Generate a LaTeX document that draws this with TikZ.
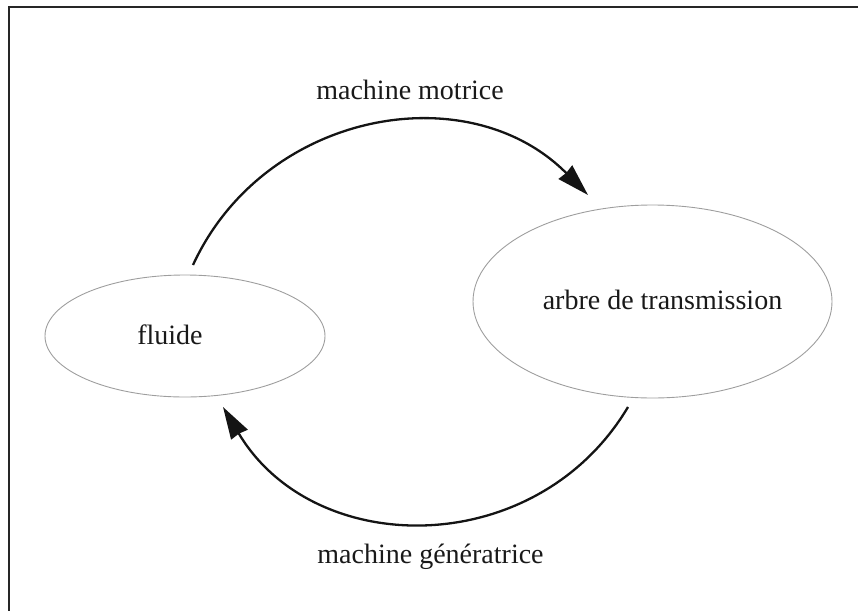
\documentclass[tikz,border=0pt]{standalone}
\usepackage{fontspec}
\setmainfont{Liberation Serif}
\usetikzlibrary{shapes.geometric,arrows.meta,calc}

\tikzset{
  state/.style={ellipse, draw=black!38, line width=0.9pt, inner sep=0pt},
  lbl/.style={anchor=base, inner sep=0pt, text=black!90,
              font=\fontsize{28}{34}\selectfont},
  conn/.style={line width=2.3pt, black!92,
               -{Stealth[length=32pt, width=19pt, inset=1pt]}},
  frame/.style={line width=2.4pt, black!85}
}

\begin{document}
\begin{tikzpicture}[x=1pt, y=-1pt]
  \useasboundingbox (0,0) rectangle (858,610);

  % open frame: top and left edges
  \draw[frame] (9,612) -- (9,7) -- (860,7);

  % the two states
  \node[state, minimum width=280pt, minimum height=122pt] (fl) at (185,336) {};
  \node[state, minimum width=359pt, minimum height=193pt] (ar) at (652.5,301.5) {};
  \node[lbl] (flt) at (170,344) {fluide};
  \node[lbl] (art) at (662.5,309) {arbre de transmission};

  % end points of the two transformations
  \coordinate (m1) at ($(fl.center)+(8,-71)$);
  \coordinate (m2) at ($(ar.center)+(-64.5,-106.5)$);
  \coordinate (g1) at ($(ar.center)+(-24.5,105.5)$);
  \coordinate (g2) at ($(fl.center)+(38,71)$);

  % fluid -> shaft
  \draw[conn] (m1) .. controls (264,111) and (468,74) .. (m2);
  % shaft -> fluid
  \draw[conn] (g1) .. controls (536.6,560.4) and (314.4,560.4) .. (g2);

  \node[lbl] (mm) at (410,99) {machine motrice};
  \node[lbl] (mg) at (430.5,563) {machine génératrice};
\end{tikzpicture}
\end{document}
